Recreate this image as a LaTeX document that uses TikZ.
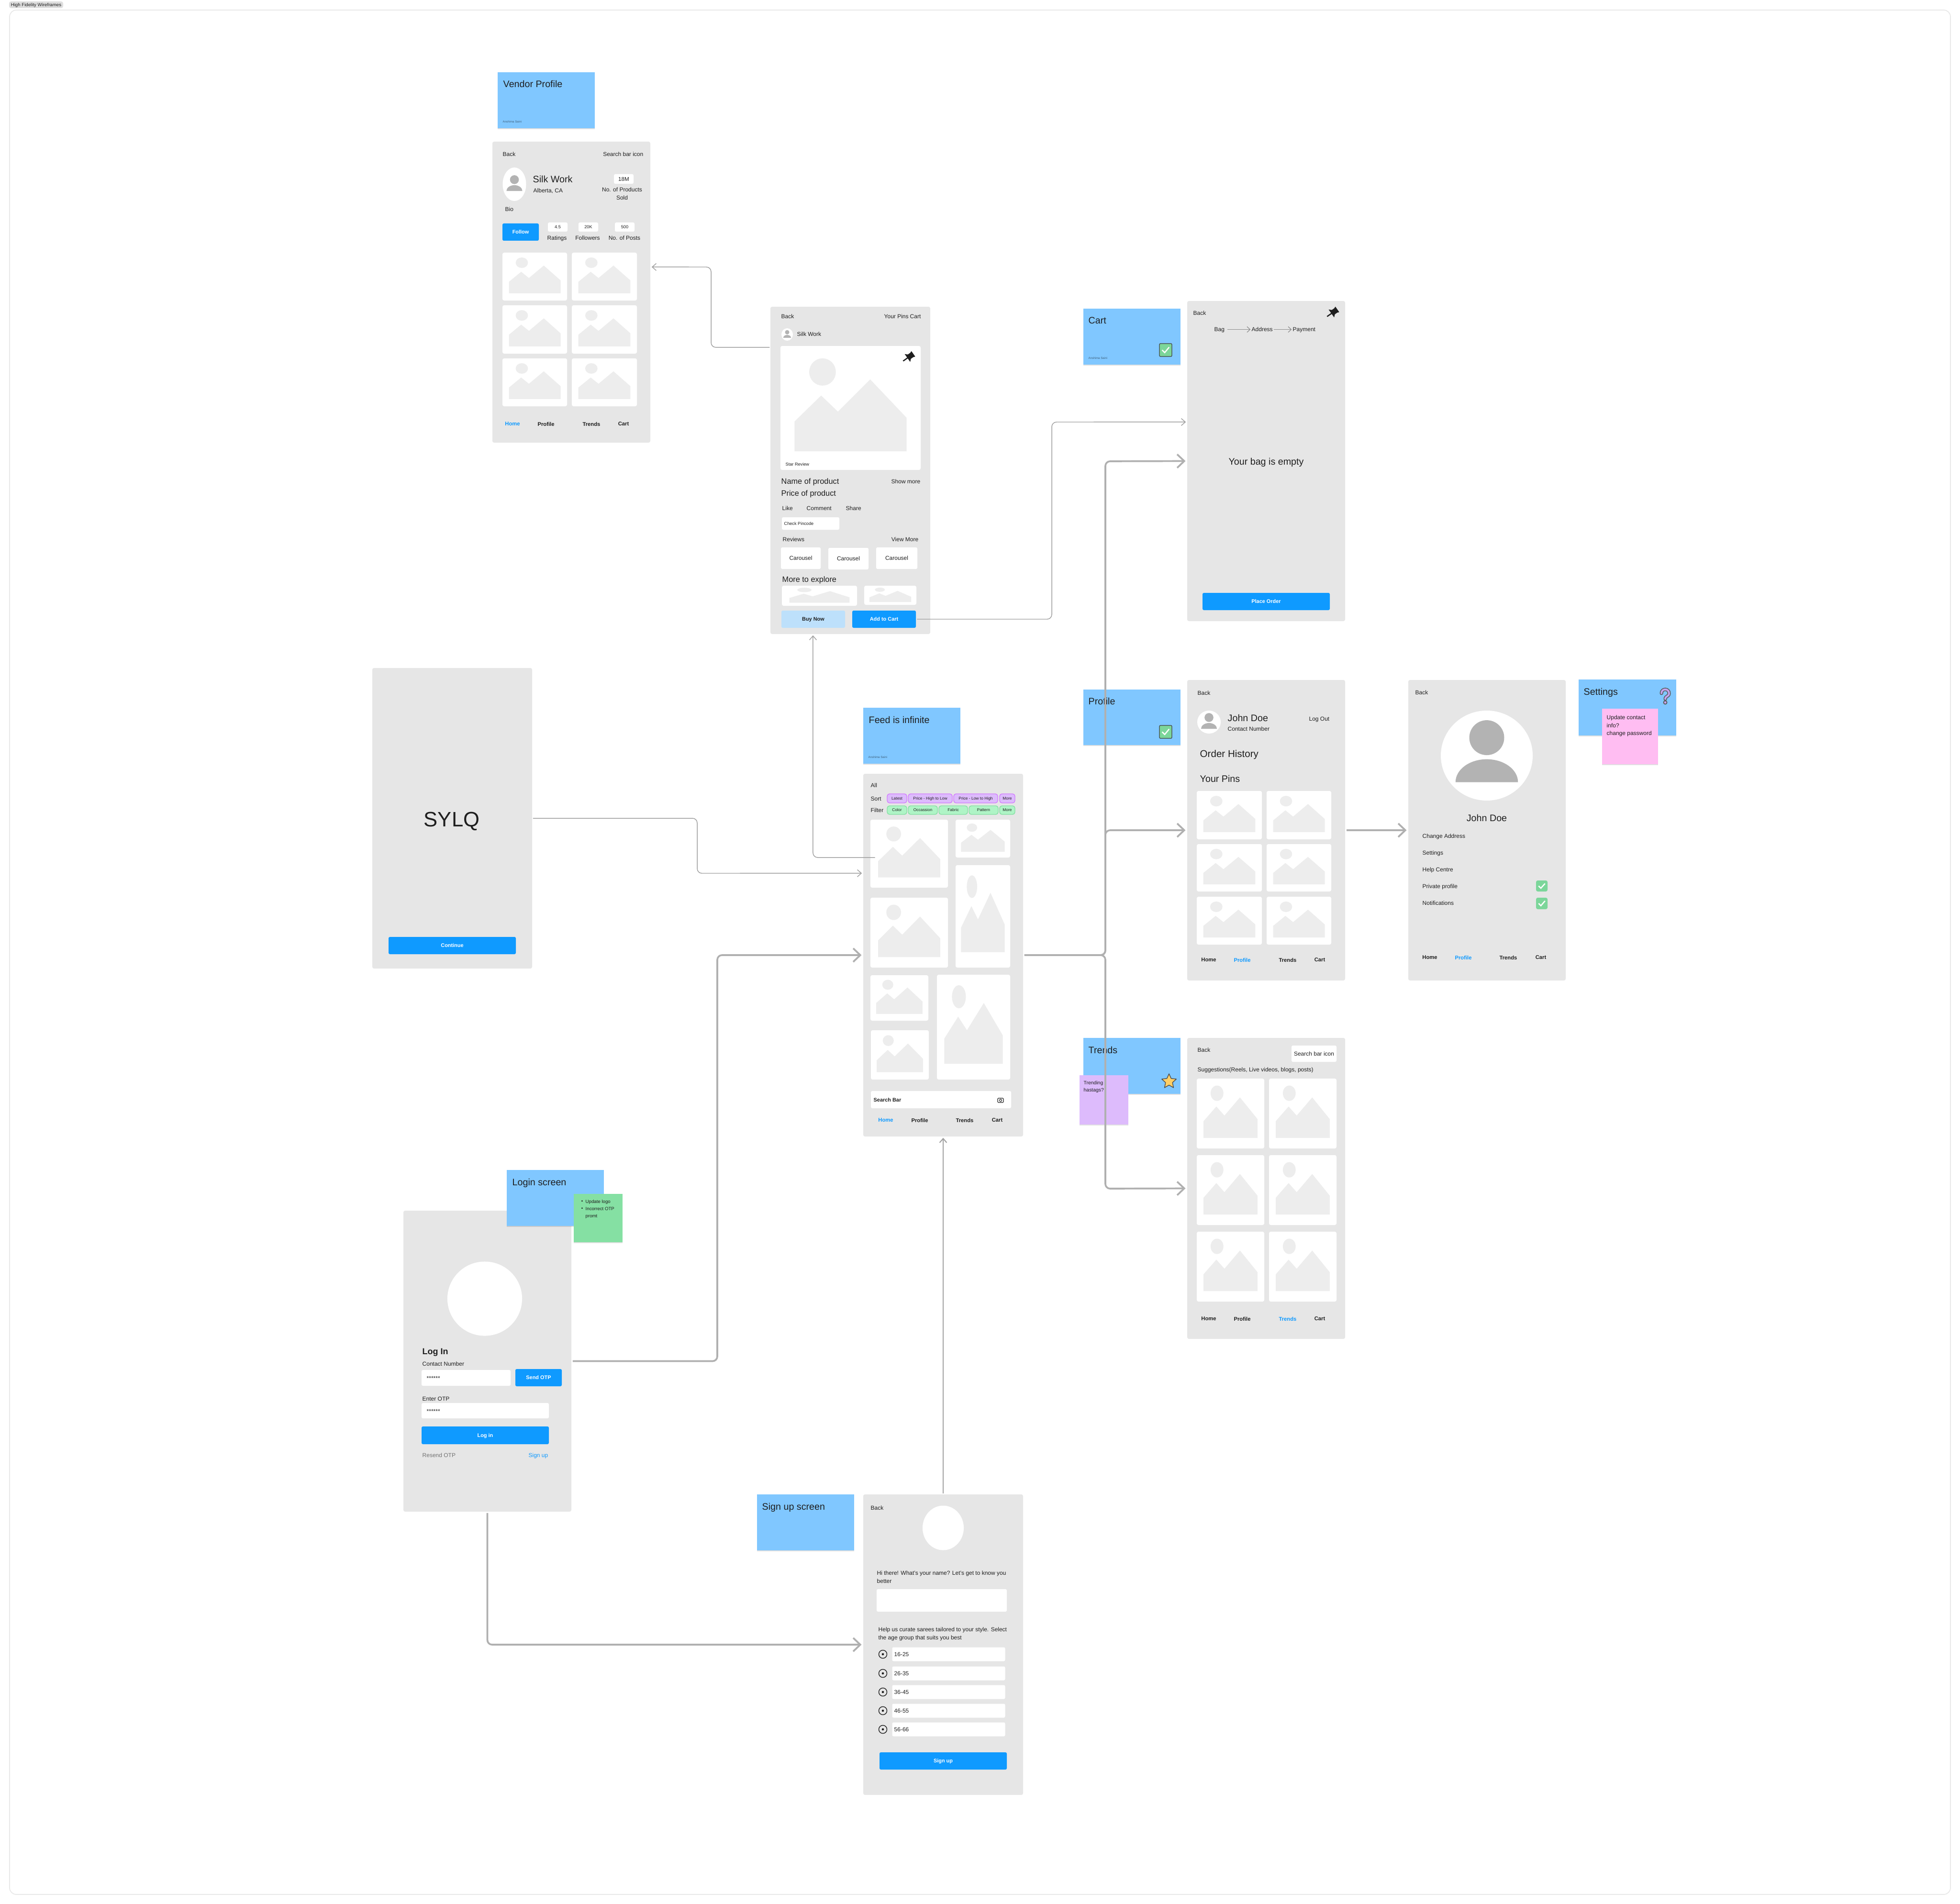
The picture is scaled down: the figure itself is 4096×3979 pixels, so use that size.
\documentclass[tikz,border=0pt]{standalone}
\usepackage{fontspec}
\setmainfont{Liberation Sans}
\usetikzlibrary{shapes.geometric, arrows.meta, positioning, calc, shadows}

\definecolor{screengray}{HTML}{E6E6E6}
\definecolor{stickyblue}{HTML}{80C7FF}
\definecolor{actionblue}{HTML}{0F9AFF}
\definecolor{palebtn}{HTML}{BDE0FB}
\definecolor{photogray}{HTML}{EDEDED}
\definecolor{persongray}{HTML}{B3B3B3}
\definecolor{inkdark}{HTML}{1E1E1E}
\definecolor{flowgray}{HTML}{B0B0B0}
\definecolor{flowthingray}{HTML}{A0A0A0}
\definecolor{chippurple}{HTML}{DDBBFC}
\definecolor{chippurpleline}{HTML}{D27CFF}
\definecolor{chipgreen}{HTML}{AFF4C6}
\definecolor{chipgreenline}{HTML}{85E0A3}
\definecolor{notepink}{HTML}{FFBDF2}
\definecolor{tickgreen}{HTML}{7CD69A}
\definecolor{stargold}{HTML}{FFCF66}
\definecolor{askpurple}{HTML}{C4A3EE}

% rectangle node given by its corners
\newcommand{\block}[7]{
  \node[#1, minimum width={(#5-#3)*0.01cm}, minimum height={(#6-#4)*0.01cm}]
    (#2) at ({(#3+#5)/2},{(#4+#6)/2}) {#7};
}
% white card with the picture placeholder
\newcommand{\thumb}[5]{
  \block{card}{#1}{#2}{#3}{#4}{#5}{}
  \begin{scope}[shift={(#2,#3)}, xscale={#4-#2}, yscale={#5-#3}]
    \fill[photogray] (.10,.85) -- (.10,.61) -- (.29,.40) -- (.41,.53) -- (.64,.27)
      -- (.90,.58) -- (.90,.85) -- cycle;
    \fill[photogray] (.30,.21) ellipse [x radius=.095, y radius=.11];
  \end{scope}
}
% avatar with head and shoulders
\newcommand{\person}[5]{
  \node[ellipse, fill=white, inner sep=0pt, minimum width={2*#4*0.01cm},
    minimum height={2*#5*0.01cm}] (#1) at (#2,#3) {};
  \begin{scope}[shift={(#2,#3)}, scale=#4]
    \fill[persongray] (0,-.39) ellipse [x radius=.38, y radius=.38];
    \fill[persongray] (-.68,.58) arc [start angle=180, end angle=360, x radius=.68, y radius=.5] -- cycle;
  \end{scope}
}
% pin icon
\newcommand{\pinicon}[2]{
  \begin{scope}[shift={(#1,#2)}, rotate=-55]
    \fill[inkdark] (-7,-13) -- (7,-13) -- (5.5,-9) -- (5.5,-3) -- (10,2) -- (-10,2)
      -- (-5.5,-3) -- (-5.5,-9) -- cycle;
    \draw[inkdark, line width=.7pt] (0,1) -- (0,13);
  \end{scope}
}
% tick box, #1 is the style of the box
\newcommand{\tickbox}[6]{
  \block{#1}{#2}{#3}{#4}{#5}{#6}{}
  \begin{scope}[shift={(#3,#4)}, xscale={#5-#3}, yscale={#6-#4}]
    \draw[white, line width=.7pt] (.22,.5) -- (.42,.7) -- (.78,.28);
  \end{scope}
}
% one answer of the age question
\newcommand{\agerow}[3]{
  \node[circle, draw=inkdark, line width=.4pt, fill=screengray, inner sep=0pt,
    minimum size=.17cm] (radio#1) at (1845,#2) {};
  \fill[inkdark] (radio#1.center) circle (2.3);
  \block{field}{age#1}{1864.5}{(#2-14.5)}{2100.5}{(#2+14.5)}{}
  \node[bodytext] (agetext#1) at (1868,#2) {#3};
}

\begin{document}
\begin{tikzpicture}[
    x=0.01cm, y=-0.01cm,
    bodytext/.style = {anchor=west, inner sep=0pt, text depth=0pt, yshift=-.15pt, text=inkdark, font=\fontsize{3.41pt}{4.6pt}\selectfont},
    smalltext/.style = {anchor=west, inner sep=0pt, text depth=0pt, text=inkdark, font=\fontsize{2.6pt}{3.6pt}\selectfont},
    headtext/.style = {anchor=west, inner sep=0pt, text depth=0pt, yshift=-.15pt, text=inkdark, font=\fontsize{4.64pt}{6pt}\selectfont},
    bigtext/.style = {anchor=west, inner sep=0pt, text depth=0pt, text=inkdark, font=\fontsize{5.6pt}{7pt}\selectfont},
    navtext/.style = {inner sep=0pt, text depth=0pt, text=inkdark, font=\bfseries\fontsize{3.2pt}{4pt}\selectfont},
    navactive/.style = {navtext, text=actionblue},
    credit/.style = {anchor=west, inner sep=0pt, text=black!30!stickyblue!70!black, font=\fontsize{1.75pt}{2pt}\selectfont},
    screen/.style = {rectangle, rounded corners=1pt, fill=screengray, inner sep=0pt, outer sep=0pt},
    sticky/.style = {rectangle, fill=stickyblue, inner sep=0pt, outer sep=0pt,
        drop shadow={shadow xshift=0pt, shadow yshift=-.6pt, opacity=.12, fill=black}},
    card/.style = {rectangle, rounded corners=1pt, fill=white, inner sep=0pt},
    field/.style = {rectangle, rounded corners=.8pt, fill=white, inner sep=0pt},
    valuebox/.style = {field, text depth=0pt, text height=1.9pt, text=inkdark, font=\fontsize{2.6pt}{3pt}\selectfont},
    action/.style = {rectangle, rounded corners=.8pt, fill=actionblue, inner sep=0pt, text=white,
        text depth=0pt, text height=2pt, font=\bfseries\fontsize{3.1pt}{4pt}\selectfont},
    chipsort/.style = {rectangle, rounded corners=1.4pt, fill=chippurple, draw=chippurpleline, line width=.4pt,
        inner sep=0pt, text depth=0pt, text height=1.6pt, text=inkdark, font=\fontsize{2.4pt}{3pt}\selectfont},
    chipfilter/.style = {chipsort, fill=chipgreen, draw=chipgreenline},
    stickytick/.style = {rectangle, rounded corners=.6pt, fill=tickgreen, draw=black!75, line width=.35pt, inner sep=0pt},
    plaintick/.style = {rectangle, rounded corners=1pt, fill=tickgreen, inner sep=0pt},
    flowthin/.style = {-{Straight Barb[length=2.4pt, width=4.2pt]}, line width=.42pt, flowthingray,
        rounded corners=2.8pt, shorten >=.8pt, shorten <=.5pt},
    flowthick/.style = {-{Straight Barb[length=4.2pt, width=8pt]}, line width=1.05pt, flowgray,
        rounded corners=2.8pt, shorten >=1pt, shorten <=.8pt},
    stepflow/.style = {-{Straight Barb[length=1.8pt, width=3.4pt]}, line width=.35pt, black!45}
]
\useasboundingbox (0,0) rectangle (4096,3979);

% Frame
\draw[black!9, line width=.5pt, rounded corners=4pt] (20,21) rectangle (4076,3959);
\block{rectangle, rounded corners=1.2pt, fill=black!13, inner sep=0pt, text=inkdark, text depth=0pt, font=\fontsize{2.75pt}{3pt}\selectfont}{frametag}{19}{3}{132}{17}{High Fidelity Wireframes}

% Vendor profile
\block{sticky}{vendornote}{1040}{151}{1243}{268}{}
\node[bigtext] (vendortitle) at (1051,175) {Vendor Profile};
\node[credit] (vendorcredit) at (1050,254) {Anshima Saini};
\block{screen}{vendor}{1029}{296}{1359}{925}{}
\node[bodytext] (vendorback) at (1050,322) {Back};
\node[bodytext, anchor=east] (vendorsearch) at (1345,322) {Search bar icon};
\person{vendorface}{1075}{385}{24.5}{35}
\node[bigtext] (vendorname) at (1113,374) {Silk Work};
\node[bodytext] (vendorcity) at (1114,398) {Alberta, CA};
\block{valuebox, text height=2.4pt, font=\fontsize{3.3pt}{4pt}\selectfont}{soldbox}{1283}{364}{1324}{384}{18M}
\node[bodytext, align=center, anchor=north, font=\fontsize{3.41pt}{4.8pt}\selectfont] (soldlabel) at (1300,391) {No. of Products\\Sold};
\node[bodytext] (vendorbio) at (1055,437) {Bio};
\block{action}{follow}{1050}{467}{1126}{503}{Follow}
\block{valuebox}{ratebox}{1145}{465}{1186}{484}{4.5}
\block{valuebox}{fansbox}{1209}{465}{1250}{484}{20K}
\block{valuebox}{postbox}{1285}{465}{1326}{484}{500}
\node[bodytext, anchor=center] (ratelabel) at (1164,497) {Ratings};
\node[bodytext, anchor=center] (fanslabel) at (1228,497) {Followers};
\node[bodytext, anchor=center] (postlabel) at (1305,497) {No. of Posts};
\thumb{vendorcard1}{1050}{528}{1185}{628}
\thumb{vendorcard2}{1195}{528}{1331}{628}
\thumb{vendorcard3}{1050}{638}{1185}{739}
\thumb{vendorcard4}{1195}{638}{1331}{739}
\thumb{vendorcard5}{1050}{749}{1185}{849}
\thumb{vendorcard6}{1195}{749}{1331}{849}
\node[navactive] (vendorhome) at (1071,886) {Home};
\node[navtext] (vendorprofile) at (1141,886) {Profile};
\node[navtext] (vendortrends) at (1236,886) {Trends};
\node[navtext] (vendorcart) at (1303,886) {Cart};

% Product page
\block{screen}{prod}{1610}{641}{1944}{1325}{}
\node[bodytext] (prodback) at (1632,661) {Back};
\node[bodytext] (prodpins) at (1847,661) {Your Pins};
\node[bodytext] (prodcart) at (1901,661) {Cart};
\person{prodface}{1645}{699}{12}{13}
\node[bodytext] (prodshop) at (1665,698) {Silk Work};
\thumb{prodphoto}{1631}{723}{1924}{982}
\pinicon{1898}{747}
\node[smalltext] (prodstars) at (1641,970) {Star Review};
\node[headtext] (prodname) at (1632,1005) {Name of product};
\node[bodytext, anchor=east] (prodmore) at (1924,1006) {Show more};
\node[headtext] (prodprice) at (1632,1030) {Price of product};
\node[bodytext] (prodlike) at (1634,1062) {Like};
\node[bodytext] (prodcomment) at (1685,1062) {Comment};
\node[bodytext] (prodshare) at (1767,1062) {Share};
\block{field}{pinbox}{1634}{1081}{1754}{1107}{}
\node[smalltext] (pintext) at (1638,1094) {Check Pincode};
\node[bodytext] (prodreviews) at (1635,1127) {Reviews};
\node[bodytext, anchor=east] (prodview) at (1920,1127) {View More};
\block{field, text=inkdark, text depth=0pt, font=\fontsize{3.41pt}{4pt}\selectfont}{carousel1}{1632}{1144}{1715}{1189}{Carousel}
\block{field, text=inkdark, text depth=0pt, font=\fontsize{3.41pt}{4pt}\selectfont}{carousel2}{1731}{1145}{1815}{1190}{Carousel}
\block{field, text=inkdark, text depth=0pt, font=\fontsize{3.41pt}{4pt}\selectfont}{carousel3}{1831}{1144}{1917}{1189}{Carousel}
\node[headtext] (prodexplore) at (1634,1210) {More to explore};
\thumb{explore1}{1634}{1224}{1791}{1266}
\thumb{explore2}{1806}{1224}{1915}{1264}
\block{action, fill=palebtn, text=inkdark}{buynow}{1633}{1276}{1766}{1312}{Buy Now}
\block{action}{addcart}{1781}{1276}{1914}{1312}{Add to Cart}

% Splash
\block{screen}{splash}{778}{1396}{1112}{2024}{}
\node[inner sep=0pt, text depth=0pt, text=inkdark, font=\fontsize{12.4pt}{14pt}\selectfont] (brand) at (944,1712) {SYLQ};
\block{action}{continue}{812}{1958}{1078}{1994}{Continue}

% Feed
\block{sticky}{feednote}{1804}{1479}{2007}{1596}{}
\node[bigtext] (feedtitle) at (1815,1504) {Feed is infinite};
\node[credit] (feedcredit) at (1814,1582) {Anshima Saini};
\block{screen}{feed}{1804}{1617}{2138}{2375}{}
\node[bodytext] (feedall) at (1819,1641) {All};
\node[bodytext] (feedsort) at (1819,1669) {Sort};
\node[bodytext] (feedfilter) at (1819,1693) {Filter};
\block{chipsort}{sortlatest}{1854}{1659}{1895}{1678}{Latest}
\block{chipsort}{sorthigh}{1898}{1659}{1990}{1678}{Price - High to Low}
\block{chipsort}{sortlow}{1993}{1659}{2085}{1678}{Price - Low to High}
\block{chipsort}{sortmore}{2089}{1659}{2121}{1678}{More}
\block{chipfilter}{filtercolor}{1854}{1684}{1895}{1702}{Color}
\block{chipfilter}{filteroccasion}{1898}{1684}{1959}{1702}{Occassion}
\block{chipfilter}{filterfabric}{1962}{1684}{2022}{1702}{Fabric}
\block{chipfilter}{filterpattern}{2025}{1684}{2086}{1702}{Pattern}
\block{chipfilter}{filtermore}{2089}{1684}{2121}{1702}{More}
\thumb{feedone}{1819}{1713}{1981}{1855}
\thumb{feedtwo}{1997}{1713}{2111}{1792}
\thumb{feedthree}{1819}{1876}{1981}{2022}
\thumb{feedfour}{1997}{1808}{2111}{2022}
\thumb{feedfive}{1819}{2038}{1940}{2133}
\thumb{feedsix}{1958}{2037}{2111}{2256}
\thumb{feedseven}{1820}{2153}{1941}{2256}
\block{field}{searchbox}{1820}{2280}{2113}{2316}{}
\node[bodytext, font=\bfseries\fontsize{3.1pt}{4pt}\selectfont] (searchtext) at (1825,2298) {Search Bar};
\draw[inkdark, line width=.3pt, rounded corners=.4pt] (2085,2295) rectangle (2097,2304);
\draw[inkdark, line width=.3pt] (2091,2299.5) circle (2.4);
\node[navactive] (feedhome) at (1851,2341) {Home};
\node[navtext] (feedprofile) at (1922,2341) {Profile};
\node[navtext] (feedtrends) at (2016,2341) {Trends};
\node[navtext] (feedcart) at (2084,2341) {Cart};

% Login
\block{screen}{login}{843}{2530}{1194}{3159}{}
\block{sticky}{loginnote}{1059}{2445}{1262}{2562}{}
\node[bigtext] (logintitle) at (1070,2470) {Login screen};
\block{sticky, fill=chipgreenline}{loginfix}{1199}{2495}{1301}{2596}{}
\node[smalltext, font=\fontsize{2.75pt}{3pt}\selectfont] (fixdot1) at (1214,2511) {•};
\node[smalltext, font=\fontsize{2.75pt}{3pt}\selectfont] (fixline1) at (1223,2511) {Update logo};
\node[smalltext, font=\fontsize{2.75pt}{3pt}\selectfont] (fixdot2) at (1214,2526) {•};
\node[smalltext, font=\fontsize{2.75pt}{3pt}\selectfont] (fixline2) at (1223,2526) {Incorrect OTP};
\node[smalltext, font=\fontsize{2.75pt}{3pt}\selectfont] (fixline3) at (1223,2541) {promt};
\node[ellipse, fill=white, inner sep=0pt, minimum width=1.56cm, minimum height=1.55cm] (loginlogo) at (1013,2714) {};
\node[bodytext, font=\bfseries\fontsize{5.1pt}{6pt}\selectfont] (loginhead) at (882,2824) {Log In};
\node[bodytext] (loginphone) at (882,2850) {Contact Number};
\block{field}{phonebox}{881}{2863}{1067}{2896}{}
\node[bodytext] (phonestars) at (891,2880) {******};
\block{action}{sendotp}{1077}{2861}{1174}{2897}{Send OTP}
\node[bodytext] (loginotp) at (882,2923) {Enter OTP};
\block{field}{otpbox}{881}{2932}{1147}{2964}{}
\node[bodytext] (otpstars) at (891,2949) {******};
\block{action}{loginbtn}{881}{2981}{1147}{3018}{Log in}
\node[bodytext, text=black!55] (resend) at (882,3041) {Resend OTP};
\node[bodytext, anchor=east, text=actionblue] (signuplink) at (1146,3041) {Sign up};

% Sign up
\block{sticky}{signupnote}{1582}{3123}{1785}{3240}{}
\node[bigtext] (signuptitle) at (1592,3148) {Sign up screen};
\block{screen}{signup}{1804}{3123}{2138}{3751}{}
\node[bodytext] (signupback) at (1819,3151) {Back};
\node[ellipse, fill=white, inner sep=0pt, minimum width=.86cm, minimum height=.93cm] (signuplogo) at (1971,3193) {};
\node[bodytext, align=left, anchor=north west] (askname) at (1832,3282) {Hi there! What's your name? Let's get to know you\\better};
\block{field}{namebox}{1832}{3321}{2104}{3368}{}
\node[bodytext, align=left, anchor=north west] (askage) at (1835,3400) {Help us curate sarees tailored to your style. Select\\the age group that suits you best};
\agerow{a}{3457}{16-25}
\agerow{b}{3497}{26-35}
\agerow{c}{3536}{36-45}
\agerow{d}{3575}{46-55}
\agerow{e}{3614}{56-66}
\block{action}{signupbtn}{1838}{3662}{2104}{3698}{Sign up}

% Cart
\block{sticky}{cartnote}{2264}{645}{2467}{762}{}
\node[bigtext] (carttitle) at (2274,670) {Cart};
\node[credit] (cartcredit) at (2274,748) {Anshima Saini};
\tickbox{stickytick}{carttick}{2423}{718}{2449}{745}
\block{screen}{cart}{2481}{629}{2811}{1298}{}
\node[bodytext] (cartback) at (2493,654) {Back};
\pinicon{2784}{654}
\node[bodytext] (bagstep) at (2537,688) {Bag};
\node[bodytext] (addressstep) at (2615,688) {Address};
\node[bodytext] (paymentstep) at (2701,688) {Payment};
\draw[stepflow, shorten <=1.6pt, shorten >=.5pt] (bagstep) -- (addressstep);
\draw[stepflow, shorten <=.5pt, shorten >=.5pt] (addressstep) -- (paymentstep);
\node[bigtext, anchor=center] (cartempty) at (2646,964) {Your bag is empty};
\block{action}{placeorder}{2513}{1239}{2779}{1275}{Place Order}

% Profile
\block{sticky}{profilenote}{2264}{1441}{2467}{1557}{}
\node[bigtext] (profiletitle) at (2274,1465) {Profile};
\tickbox{stickytick}{profiletick}{2423}{1516}{2449}{1543}
\block{screen}{profile}{2481}{1421}{2811}{2049}{}
\node[bodytext] (profileback) at (2502,1448) {Back};
\person{profileface}{2526.5}{1509}{24.5}{24}
\node[bigtext] (profilename) at (2565,1500) {John Doe};
\node[bodytext] (profilephone) at (2565,1523) {Contact Number};
\node[bodytext, anchor=east] (profilelogout) at (2779,1502) {Log Out};
\node[bigtext, font=\fontsize{5.85pt}{7pt}\selectfont] (profileorders) at (2507,1575) {Order History};
\node[bigtext] (profilepins) at (2507,1627) {Your Pins};
\thumb{pincard1}{2501}{1653}{2637}{1754}
\thumb{pincard2}{2647}{1653}{2782}{1754}
\thumb{pincard3}{2501}{1764}{2637}{1863}
\thumb{pincard4}{2647}{1764}{2782}{1863}
\thumb{pincard5}{2501}{1874}{2637}{1974}
\thumb{pincard6}{2647}{1874}{2782}{1974}
\node[navtext] (profilehome) at (2526,2006) {Home};
\node[navactive] (profileprofile) at (2596,2006) {Profile};
\node[navtext] (profiletrends) at (2691,2006) {Trends};
\node[navtext] (profilecart) at (2758,2006) {Cart};

% Settings
\block{screen}{settings}{2943}{1421}{3272}{2049}{}
\node[bodytext] (settingsback) at (2957,1447) {Back};
\person{settingsface}{3107}{1579}{96}{94}
\node[bigtext, anchor=center] (settingsname) at (3107,1709) {John Doe};
\node[bodytext] (changeaddress) at (2972,1747) {Change Address};
\node[bodytext] (settingsitem) at (2972,1782) {Settings};
\node[bodytext] (helpcentre) at (2972,1817) {Help Centre};
\node[bodytext] (privateitem) at (2972,1852) {Private profile};
\node[bodytext] (noticeitem) at (2972,1887) {Notifications};
\tickbox{plaintick}{privatetick}{3210}{1840}{3234}{1863}
\tickbox{plaintick}{noticetick}{3210}{1876}{3234}{1900}
\node[navtext] (settingshome) at (2988,2001) {Home};
\node[navactive] (settingsprofile) at (3058,2001) {Profile};
\node[navtext] (settingstrends) at (3152,2001) {Trends};
\node[navtext] (settingscart) at (3220,2001) {Cart};
\block{sticky}{settingsnote}{3299}{1420}{3503}{1537}{}
\node[bigtext] (settingstitle) at (3309,1445) {Settings};
\draw[black!65, line width=2pt, line cap=round] (3472,1449) .. controls (3472,1438) and (3488,1438) .. (3488,1449) .. controls (3488,1456) and (3480,1454) .. (3480,1461);
\fill[black!65] (3480,1468) circle (4.5);
\draw[askpurple, line width=1.1pt, line cap=round] (3472,1449) .. controls (3472,1438) and (3488,1438) .. (3488,1449) .. controls (3488,1456) and (3480,1454) .. (3480,1461);
\fill[askpurple] (3480,1468) circle (2.5);
\block{sticky, fill=notepink}{settingsfix}{3348}{1481}{3465}{1597}{}
\node[bodytext, align=left, anchor=north west] (settingsfixtext) at (3357,1494) {Update contact\\info?\\change password};

% Trends
\block{sticky}{trendsnote}{2264}{2169}{2467}{2286}{}
\node[bigtext] (trendstitle) at (2274,2194) {Trends};
\node[star, star points=5, star point ratio=2.1, fill=stargold, draw=black!70, line width=.4pt, line join=round, inner sep=0pt, minimum size=.32cm] (trendstar) at (2443,2260) {};
\block{sticky, fill=chippurple}{trendsfix}{2256}{2247}{2358}{2350}{}
\node[smalltext, align=left, anchor=north west, font=\fontsize{2.95pt}{4.2pt}\selectfont] (trendsfixtext) at (2264,2258) {Trending\\hastags?};
\block{screen}{trends}{2481}{2169}{2811}{2798}{}
\node[bodytext] (trendsback) at (2502,2194) {Back};
\block{field, text=inkdark, text depth=0pt, font=\fontsize{3.41pt}{4pt}\selectfont}{trendssearch}{2699}{2185}{2793}{2219}{Search bar icon}
\node[bodytext] (suggestions) at (2502,2235) {Suggestions(Reels, Live videos, blogs, posts)};
\thumb{trendcard1}{2501}{2254}{2642}{2400}
\thumb{trendcard2}{2652}{2254}{2793}{2400}
\thumb{trendcard3}{2501}{2414}{2642}{2560}
\thumb{trendcard4}{2652}{2414}{2793}{2560}
\thumb{trendcard5}{2501}{2574}{2642}{2720}
\thumb{trendcard6}{2652}{2574}{2793}{2720}
\node[navtext] (trendshome) at (2526,2756) {Home};
\node[navtext] (trendsprofile) at (2596,2756) {Profile};
\node[navactive] (trendstrends) at (2691,2756) {Trends};
\node[navtext] (trendscart) at (2758,2756) {Cart};

% Flows
\draw[flowthin] ([yshift=2.57cm]prod.west) -| (1486,558) -- ([yshift=.525cm]vendor.east);
\draw[flowthin] (addcart.east) -| (2198,882) -- ([yshift=.815cm]cart.west);
\draw[flowthin] (splash.east) -| (1457,1825) -- ([yshift=1.71cm]feed.west);
\draw[flowthin] ([xshift=.12cm,yshift=-.08cm]feedone.west) -| ([xshift=-.78cm]prod.south);
\draw[flowthin, line width=.6pt] (signup.north) -- (feed.south);
\draw[flowthick] (login.east) -| (1499,1996) -- (feed.west);
\draw[flowthick] (login.south) |- (signup.west);
\draw[flowthick] (feed.east) -| (2310,964) -- (cart.west);
\draw[flowthick] (feed.east) -| (2310,1735) -- (profile.west);
\draw[flowthick] (feed.east) -| (2310,2484) -- (trends.west);
\draw[flowthick] (profile.east) -- (settings.west);

\end{tikzpicture}
\end{document}
